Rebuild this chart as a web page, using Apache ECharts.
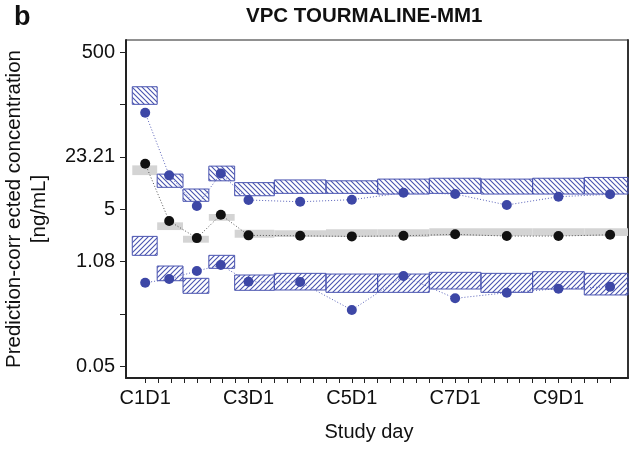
<!DOCTYPE html>
<html>
<head>
<meta charset="utf-8">
<script src="https://cdn.jsdelivr.net/npm/echarts@6/dist/echarts.min.js"></script>
<style>
  html, body { margin: 0; padding: 0; background: #fff; }
  #chart { width: 637px; height: 453px; }
</style>
</head>
<body>
<div id="chart"></div>
<script>
// Time axis: days after C1D1; one tick per week, labels every second cycle
const xTickDays = [0, 7, 14, 21, 28, 35, 42, 49, 56, 63, 70, 77, 84, 91, 98, 105, 112, 119, 126,
  133, 140, 147, 154, 161, 168, 175, 182, 189, 196, 203, 210, 217, 224, 231, 238, 245, 252];
const xLabelDays = [0, 56, 112, 168, 224];
const xLabelText = ['C1D1', 'C3D1', 'C5D1', 'C7D1', 'C9D1'];

// Concentration axis (log), evenly spaced ticks
const yTickValues = [0.05, 0.2321, 1.077, 5, 23.21, 107.7, 500];
const yLabelValues = [0.05, 1.077, 5, 23.21, 500];
const yLabelText = ['0.05', '1.08', '5', '23.21', '500'];

// Time bins (days)
const binStart = [-7, 6.5, 20.5, 34.5, 48.5, 70, 98, 126, 154, 182, 210, 238];
const binEnd   = [6.5, 20.5, 34.5, 48.5, 70, 98, 126, 154, 182, 210, 238, 266];

// Observed percentiles per bin
const obsDay = [0, 13, 28, 41, 56, 84, 112, 140, 168, 196, 224, 252];
const obsP95 = [84.9, 13.5, 5.48, 14.3, 6.54, 6.22, 6.6, 8.1, 7.8, 5.65, 7.21, 7.74];
const obsP50 = [19.0, 3.53, 2.14, 4.25, 2.32, 2.29, 2.25, 2.29, 2.39, 2.27, 2.27, 2.36];
const obsP05 = [0.577, 0.644, 0.814, 0.97, 0.594, 0.589, 0.259, 0.703, 0.365, 0.431, 0.484, 0.513];

// Simulated 95% confidence intervals of the percentiles
const ciP95Low  = [108.6, 9.5, 6.3, 11.5, 7.42, 7.96, 7.96, 7.8, 7.96, 7.8, 7.8, 7.8];
const ciP95High = [182, 14.0, 9.04, 17.7, 10.9, 11.8, 11.5, 12.1, 12.4, 12.1, 12.4, 12.7];
const ciP50Low  = [13.6, 2.71, 1.87, 3.56, 2.16, 2.21, 2.21, 2.21, 2.27, 2.27, 2.27, 2.27];
const ciP50High = [18.1, 3.40, 2.29, 4.34, 2.74, 2.69, 2.77, 2.77, 2.85, 2.85, 2.85, 2.85];
const ciP05Low  = [1.29, 0.612, 0.423, 0.881, 0.462, 0.466, 0.435, 0.435, 0.48, 0.435, 0.48, 0.403];
const ciP05High = [2.25, 0.942, 0.657, 1.29, 0.724, 0.760, 0.745, 0.745, 0.783, 0.760, 0.798, 0.760];

const FONT = "'Liberation Sans', Arial, Helvetica, sans-serif";
const BLUE = '#3d47a6';
const BLUE_LINE = '#5a63bb';
const BOX_EDGE = '#4a54b0';
const HATCH = '#4954b0';

// Diagonal hatch tile; rising = "/" lines, otherwise "\" lines
function hatchPattern(rising, color) {
  const n = 5;
  const c = document.createElement('canvas');
  c.width = n; c.height = n;
  const g = c.getContext('2d');
  g.strokeStyle = color;
  g.lineWidth = 1.1;
  g.beginPath();
  if (rising) {
    g.moveTo(-1, n + 1); g.lineTo(n + 1, -1);
    g.moveTo(-1, 1); g.lineTo(1, -1);
    g.moveTo(n - 1, n + 1); g.lineTo(n + 1, n - 1);
  } else {
    g.moveTo(-1, -1); g.lineTo(n + 1, n + 1);
    g.moveTo(-1, n - 1); g.lineTo(1, n + 1);
    g.moveTo(n - 1, -1); g.lineTo(n + 1, 1);
  }
  g.stroke();
  return { image: c, repeat: 'repeat' };
}

function boxData(lo, hi) {
  return binStart.map((s, i) => [s, binEnd[i], lo[i], hi[i]]);
}

function boxRenderer(fill, stroke) {
  return function (params, api) {
    const a = api.coord([api.value(0), api.value(3)]);
    const b = api.coord([api.value(1), api.value(2)]);
    const cs = params.coordSys;
    const rect = echarts.graphic.clipRectByRect(
      { x: a[0], y: a[1], width: b[0] - a[0], height: b[1] - a[1] },
      { x: cs.x, y: cs.y, width: cs.width, height: cs.height }
    );
    if (!rect) return;
    return {
      type: 'rect',
      shape: rect,
      style: { fill: fill, stroke: stroke, lineWidth: stroke ? 1 : 0 }
    };
  };
}

function pairs(ys) {
  return obsDay.map((d, i) => [d, ys[i]]);
}

const chart = echarts.init(document.getElementById('chart'), null, { renderer: 'canvas' });

chart.setOption({
  animation: false,
  backgroundColor: '#fff',
  title: [
    {
      text: 'VPC TOURMALINE-MM1',
      left: 246, top: 6, padding: 0,
      textStyle: { fontFamily: FONT, fontSize: 20.5, fontWeight: 'bold', color: '#111' }
    },
    {
      text: 'b',
      left: 14, top: 4, padding: 0,
      textStyle: { fontFamily: FONT, fontSize: 27, fontWeight: 'bold', color: '#111' }
    }
  ],
  grid: {
    left: 126, right: 9, top: 40, bottom: 75,
    containLabel: false,
    outerBoundsMode: 'none',
    show: true, borderColor: '#222', borderWidth: 1, backgroundColor: 'transparent'
  },
  xAxis: {
    type: 'value',
    min: -10.4, max: 261.7,
    name: 'Study day',
    nameLocation: 'middle',
    nameGap: 44,
    nameTextStyle: { fontFamily: FONT, fontSize: 20, color: '#111', padding: [0, 16, 0, 0] },
    axisLine: { show: true, onZero: false, lineStyle: { color: '#222', width: 2 } },
    axisTick: { show: true, length: 5, customValues: xTickDays, lineStyle: { color: '#222', width: 1 } },
    axisLabel: {
      show: true, margin: 10, customValues: xLabelDays,
      fontFamily: FONT, fontSize: 20, color: '#111',
      formatter: function (v) {
        const i = xLabelDays.indexOf(v);
        return i >= 0 ? xLabelText[i] : '';
      }
    },
    splitLine: { show: false }
  },
  yAxis: [
    {
      type: 'log',
      min: 0.0352, max: 718,
      name: 'Prediction-corr ected concentration\n[ng/mL]',
      nameLocation: 'middle',
      nameRotate: 90,
      nameGap: 74,
      nameTextStyle: { fontFamily: FONT, fontSize: 20.5, lineHeight: 25, color: '#111' },
      axisLine: { show: true, onZero: false, lineStyle: { color: '#222', width: 2 } },
      axisTick: { show: true, length: 6, customValues: yTickValues, lineStyle: { color: '#222', width: 1 } },
      axisLabel: {
        show: true, margin: 11, customValues: yLabelValues,
        fontFamily: FONT, fontSize: 20, color: '#111',
        formatter: function (v) {
          const i = yLabelValues.findIndex(t => Math.abs(Math.log10(t) - Math.log10(v)) < 0.01);
          return i >= 0 ? yLabelText[i] : '';
        }
      },
      splitLine: { show: false }
    },
    {
      type: 'value',
      position: 'right',
      axisLine: { show: true, onZero: false, lineStyle: { color: '#333', width: 2 } },
      axisTick: { show: false },
      axisLabel: { show: false },
      splitLine: { show: false }
    }
  ],
  series: [
    {
      name: 'CI median',
      type: 'custom',
      renderItem: boxRenderer('#d4d4d4', null),
      encode: { x: [0, 1], y: [2, 3] },
      data: boxData(ciP50Low, ciP50High),
      z: 1
    },
    {
      name: 'CI 95th',
      type: 'custom',
      renderItem: boxRenderer(hatchPattern(false, HATCH), BOX_EDGE),
      encode: { x: [0, 1], y: [2, 3] },
      data: boxData(ciP95Low, ciP95High),
      z: 2
    },
    {
      name: 'CI 5th',
      type: 'custom',
      renderItem: boxRenderer(hatchPattern(true, HATCH), BOX_EDGE),
      encode: { x: [0, 1], y: [2, 3] },
      data: boxData(ciP05Low, ciP05High),
      z: 2
    },
    {
      name: 'Observed median',
      type: 'line',
      data: pairs(obsP50),
      symbol: 'circle', symbolSize: 10,
      itemStyle: { color: '#111' },
      lineStyle: { color: '#555', width: 1, type: [1, 2] },
      z: 5
    },
    {
      name: 'Observed 95th',
      type: 'line',
      data: pairs(obsP95),
      symbol: 'circle', symbolSize: 10,
      itemStyle: { color: BLUE },
      lineStyle: { color: BLUE_LINE, width: 1, type: [1, 2] },
      z: 5
    },
    {
      name: 'Observed 5th',
      type: 'line',
      data: pairs(obsP05),
      symbol: 'circle', symbolSize: 10,
      itemStyle: { color: BLUE },
      lineStyle: { color: BLUE_LINE, width: 1, type: [1, 2] },
      z: 5
    }
  ]
});
</script>
</body>
</html>
